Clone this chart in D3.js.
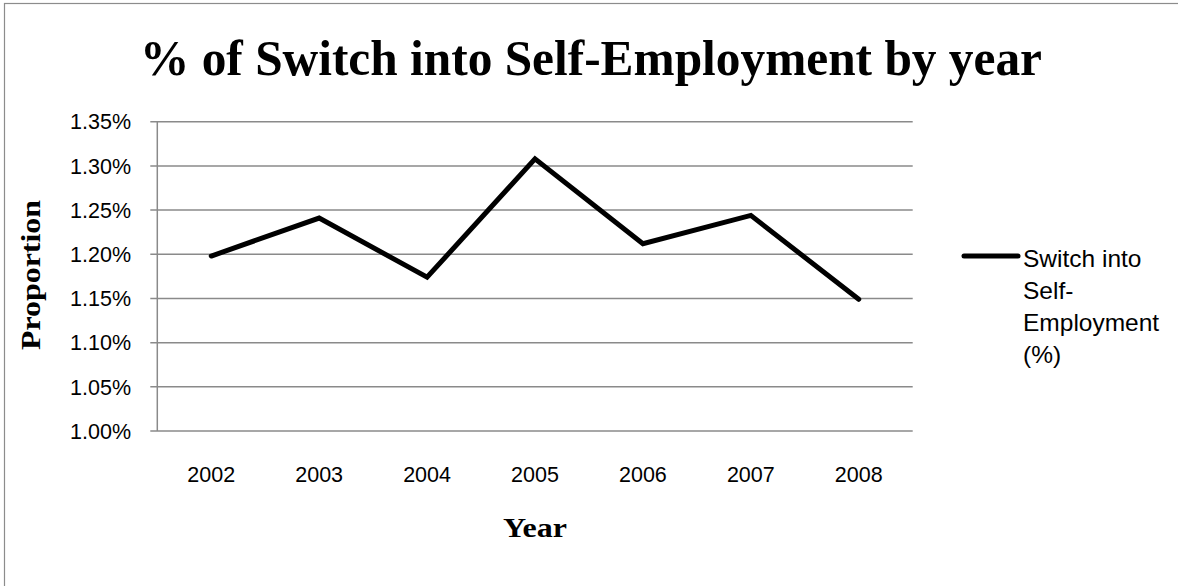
<!DOCTYPE html>
<html><head><meta charset="utf-8">
<script src="https://cdn.jsdelivr.net/npm/d3@7"></script>
<style>html,body{margin:0;padding:0;background:#fff;overflow:hidden}</style>
</head><body>
<script>
const years = ["2002","2003","2004","2005","2006","2007","2008"];
const values = [1.198, 1.241, 1.174, 1.308, 1.212, 1.244, 1.149];
const yTicks = [1.00, 1.05, 1.10, 1.15, 1.20, 1.25, 1.30, 1.35];
const seriesName = ["Switch into", "Self-", "Employment", "(%)"];
const titleText = "% of Switch into Self-Employment by year";

const W = 1178, H = 586;
const svg = d3.select("body").append("svg").attr("width", W).attr("height", H);
svg.append("rect").attr("width", W).attr("height", H).attr("fill", "#fff");
svg.append("rect").attr("x", 4.5).attr("y", 3.5).attr("width", W).attr("height", H)
  .attr("fill", "none").attr("stroke", "#8c8c8c").attr("stroke-width", 1.2);

const L = 157.3, R = 912.7, T = 121.7, B = 431;
const x = d3.scaleBand().domain(years).range([L, R]);
const y = d3.scaleLinear().domain([1.00, 1.35]).range([B, T]);

// gridlines
svg.append("g").selectAll("line").data(yTicks).join("line")
  .attr("x1", L - 7).attr("x2", R).attr("y1", d => y(d)).attr("y2", d => y(d))
  .attr("stroke", "#8a8a8a").attr("stroke-width", 1.5);
svg.append("line").attr("x1", L).attr("x2", L).attr("y1", T).attr("y2", B)
  .attr("stroke", "#8a8a8a").attr("stroke-width", 1.5);

const sans = "'Liberation Sans', Arial, sans-serif";
const serif = "'Liberation Serif', 'Times New Roman', serif";

// y tick labels
svg.append("g").selectAll("text").data(yTicks).join("text")
  .attr("x", 131).attr("y", d => y(d)).attr("dy", "0.36em")
  .attr("text-anchor", "end").attr("font-family", sans).attr("font-size", 21.5)
  .attr("fill", "#000").text(d => d.toFixed(2) + "%");

// x tick labels
svg.append("g").selectAll("text").data(years).join("text")
  .attr("x", d => x(d) + x.bandwidth() / 2).attr("y", 481.5)
  .attr("text-anchor", "middle").attr("font-family", sans).attr("font-size", 21.5)
  .attr("fill", "#000").text(d => d);

// line
const line = d3.line().x((d, i) => x(years[i]) + x.bandwidth() / 2).y(d => y(d));
svg.append("path").datum(values).attr("d", line).attr("fill", "none")
  .attr("stroke", "#000").attr("stroke-width", 5).attr("stroke-linejoin", "miter")
  .attr("stroke-linecap", "round");

// title
svg.append("text").attr("x", 591).attr("y", 75).attr("text-anchor", "middle")
  .attr("font-family", serif).attr("font-weight", "bold").attr("font-size", 50)
  .attr("textLength", 902).attr("lengthAdjust", "spacingAndGlyphs").text(titleText);

// axis titles
svg.append("text").attr("x", 535).attr("y", 537).attr("text-anchor", "middle")
  .attr("font-family", serif).attr("font-weight", "bold").attr("font-size", 28)
  .attr("textLength", 64).attr("lengthAdjust", "spacingAndGlyphs")
  .text("Year");
svg.append("text").attr("transform", "translate(40,275) rotate(-90)")
  .attr("text-anchor", "middle").attr("font-family", serif).attr("font-weight", "bold")
  .attr("font-size", 28).attr("textLength", 150).attr("lengthAdjust", "spacingAndGlyphs")
  .text("Proportion");

// legend
const lg = svg.append("g");
lg.append("line").attr("x1", 964).attr("x2", 1018).attr("y1", 256).attr("y2", 256)
  .attr("stroke", "#000").attr("stroke-width", 5).attr("stroke-linecap", "round");
lg.selectAll("text").data(seriesName).join("text")
  .attr("x", 1023).attr("y", (d, i) => 266.5 + i * 32.2)
  .attr("font-family", sans).attr("font-size", 24.5).attr("fill", "#000").text(d => d);
</script>
</body></html>
